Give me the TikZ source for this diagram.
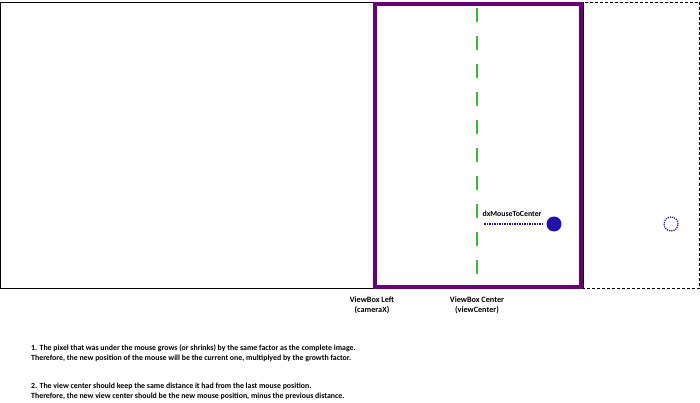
\documentclass[tikz,border=0pt]{standalone}
\usepackage{fontspec}
\setmainfont{Carlito}
\usetikzlibrary{positioning}
\definecolor{boxpurple}{RGB}{102,0,119}
\definecolor{mouseblue}{RGB}{34,17,170}
\definecolor{centergreen}{RGB}{64,184,64}

\begin{document}
\begin{tikzpicture}[x=1pt,y=-1pt,
  lbl/.style={font=\fontsize{8.2}{10.5}\selectfont\bfseries, align=center, inner sep=0pt},
  note/.style={font=\fontsize{7.85}{10}\selectfont\bfseries, align=left, anchor=north west, inner sep=0pt},
  mousedot/.style={circle, minimum size=15pt, inner sep=0pt}]
  \useasboundingbox (0,0) rectangle (700,403);

  % Define nodes
  \coordinate (image0) at (0.5,2);
  \coordinate (image1) at (583,288);
  \coordinate (grown1) at (699.5,288);
  \coordinate (view0) at (375,4);
  \coordinate (view1) at (581,287);
  \coordinate (ctop) at (477,8);
  \coordinate (cbot) at (477,275);
  \node[mousedot, fill=mouseblue] (mouse) at (554,224) {};
  \node[mousedot, minimum size=14pt, draw=mouseblue, densely dotted, line width=1.2pt] (newmouse) at (671,224) {};
  \coordinate (dxstart) at (484,224);
  \node[lbl, font=\fontsize{7.8}{10}\selectfont\bfseries] (dx) at (512,214) {dxMouseToCenter};
  \node[lbl] (vleft) at (372,305) {ViewBox Left\\(cameraX)};
  \node[lbl] (vcenter) at (477,305) {ViewBox Center\\(viewCenter)};
  \node[note] (note1) at (31,344) {1. The pixel that was under the mouse grows (or shrinks) by the same factor as the complete image.\\Therefore, the new position of the mouse will be the current one, multiplyed by the growth factor.};
  \node[note] (note2) at (31,383) {2. The view center should keep the same distance it had from the last mouse position.\\Therefore, the new view center should be the new mouse position, minus the previous distance.};

  % Draw the boxes
  \draw[line width=0.8pt] (image0) rectangle (image1);
  \draw[densely dashed, line width=0.7pt] (image1 |- image0) rectangle (grown1);
  \draw[boxpurple, line width=4pt] (view0) rectangle (view1);

  % Connect the nodes
  \draw[centergreen, line width=2pt, dash pattern=on 14pt off 14pt] (ctop) -- (cbot);
  \draw[mouseblue, densely dotted, line width=1.5pt] (dxstart) -- ([xshift=-4pt]mouse.west);

\end{tikzpicture}
\end{document}
